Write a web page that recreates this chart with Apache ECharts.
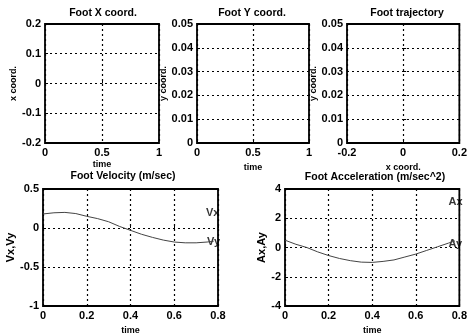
<!DOCTYPE html>
<html><head><meta charset="utf-8">
<script src="https://cdn.jsdelivr.net/npm/echarts@6/dist/echarts.min.js"></script>
<style>html,body{margin:0;padding:0;background:#fff}#c{width:470px;height:336px}</style>
</head><body><div id="c"></div>
<script>
// ---- data ----
const titles = ['Foot X coord.', 'Foot Y coord.', 'Foot trajectory', 'Foot Velocity (m/sec)', 'Foot Acceleration (m/sec^2)'];
const xNames = ['time', 'time', 'x coord.', 'time', 'time'];
const yNames = ['x coord.', 'y coord.', 'y coord.', 'Vx,Vy', 'Ax,Ay'];
const xMin = [0, 0, -0.2, 0, 0];
const xMax = [1, 1, 0.2, 0.8, 0.8];
const xStep = [0.5, 0.5, 0.2, 0.2, 0.2];
const yMin = [-0.2, 0, 0, -1, -4];
const yMax = [0.2, 0.05, 0.05, 0.5, 4];
const yStep = [0.1, 0.01, 0.01, 0.5, 2];

const timeV = [0, 0.05, 0.1, 0.15, 0.2, 0.25, 0.3, 0.35, 0.4, 0.45, 0.5, 0.55, 0.6, 0.65, 0.7, 0.75, 0.78];
const velocity = [0.18, 0.195, 0.2, 0.185, 0.15, 0.12, 0.08, 0.02, -0.03, -0.08, -0.12, -0.155, -0.18, -0.19, -0.19, -0.18, -0.17];
const accel = [0.5, 0.22, 0.0, -0.3, -0.55, -0.75, -0.9, -1.0, -1.02, -0.95, -0.85, -0.65, -0.45, -0.2, 0.05, 0.3, 0.45];

const velLabels = ['Vx', 'Vy'];
const velLabelX = [0.745, 0.75];
const velLabelY = [0.19, -0.18];
const accLabels = ['Ax', 'Ay'];
const accLabelX = [0.75, 0.75];
const accLabelY = [3.1, 0.25];

// ---- layout ----
const grids = [
  {left: 45, top: 24, width: 114, height: 119},
  {left: 197, top: 24, width: 112, height: 119},
  {left: 347, top: 24, width: 118, height: 119},
  {left: 43, top: 189, width: 175, height: 117},
  {left: 285, top: 189, width: 178, height: 118}
];
const titlePos = [[103, 13], [252, 13], [407, 13], [123, 176], [375, 177]];
const xNameGap = [17, 20, 20, 20, 20];
const yNameGap = [27, 29, 28, 26, 14];
const yNameSize = [9, 9, 9, 11, 11];

const FONT = 'Liberation Sans, Arial, sans-serif';
const gridLine = {show: true, lineStyle: {color: '#000', type: [2, 3], width: 1.2}};

const option = {
  backgroundColor: '#fff',
  animation: false,
  grid: grids.map(g => Object.assign({show: true, borderColor: '#000', borderWidth: 1.8, backgroundColor: 'transparent', containLabel: false}, g)),
  xAxis: grids.map((g, i) => ({
    type: 'value', gridIndex: i, min: xMin[i], max: xMax[i], interval: xStep[i],
    name: xNames[i], nameLocation: 'middle', nameGap: xNameGap[i],
    nameTextStyle: {color: '#000', fontSize: 9, fontWeight: 'bold', fontFamily: FONT},
    axisLine: {show: false}, axisTick: {show: true, inside: true, length: 3, lineStyle: {color: '#000'}},
    axisLabel: {color: '#000', fontSize: 11, fontWeight: 'bold', fontFamily: FONT, margin: 4, showMinLabel: true, showMaxLabel: true},
    splitLine: gridLine
  })),
  yAxis: grids.map((g, i) => ({
    type: 'value', gridIndex: i, min: yMin[i], max: yMax[i], interval: yStep[i],
    name: yNames[i], nameLocation: 'middle', nameGap: yNameGap[i],
    nameTextStyle: {color: '#000', fontSize: yNameSize[i], fontWeight: 'bold', fontFamily: FONT},
    axisLine: {show: false}, axisTick: {show: true, inside: true, length: 3, lineStyle: {color: '#000'}},
    axisLabel: {color: '#000', fontSize: 11, fontWeight: 'bold', fontFamily: FONT, margin: 4, showMinLabel: true, showMaxLabel: true},
    splitLine: gridLine
  })),
  graphic: titles.map((t, i) => ({
    type: 'text', x: titlePos[i][0], y: titlePos[i][1], z: 10,
    style: {text: t, fill: '#000', font: 'bold 10.5px ' + FONT, align: 'center', verticalAlign: 'middle'}
  })),
  series: [
    {type: 'line', xAxisIndex: 0, yAxisIndex: 0, data: [], showSymbol: false},
    {type: 'line', xAxisIndex: 1, yAxisIndex: 1, data: [], showSymbol: false},
    {type: 'line', xAxisIndex: 2, yAxisIndex: 2, data: [], showSymbol: false},
    {type: 'line', xAxisIndex: 3, yAxisIndex: 3, showSymbol: false, silent: true,
      lineStyle: {color: '#444', width: 1}, data: timeV.map((t, k) => [t, velocity[k]])},
    {type: 'line', xAxisIndex: 4, yAxisIndex: 4, showSymbol: false, silent: true,
      lineStyle: {color: '#444', width: 1}, data: timeV.map((t, k) => [t, accel[k]])},
    {type: 'scatter', xAxisIndex: 3, yAxisIndex: 3, symbolSize: 0, silent: true,
      data: velLabels.map((s, k) => [velLabelX[k], velLabelY[k], s]),
      label: {show: true, position: 'right', distance: 0, formatter: p => p.data[2], color: '#000', fontSize: 11, fontWeight: 'bold', fontFamily: FONT}},
    {type: 'scatter', xAxisIndex: 4, yAxisIndex: 4, symbolSize: 0, silent: true,
      data: accLabels.map((s, k) => [accLabelX[k], accLabelY[k], s]),
      label: {show: true, position: 'right', distance: 0, formatter: p => p.data[2], color: '#000', fontSize: 11, fontWeight: 'bold', fontFamily: FONT}}
  ]
};
const chart = echarts.init(document.getElementById('c'), null, {renderer: 'canvas'});
chart.setOption(option);
</script></body></html>
